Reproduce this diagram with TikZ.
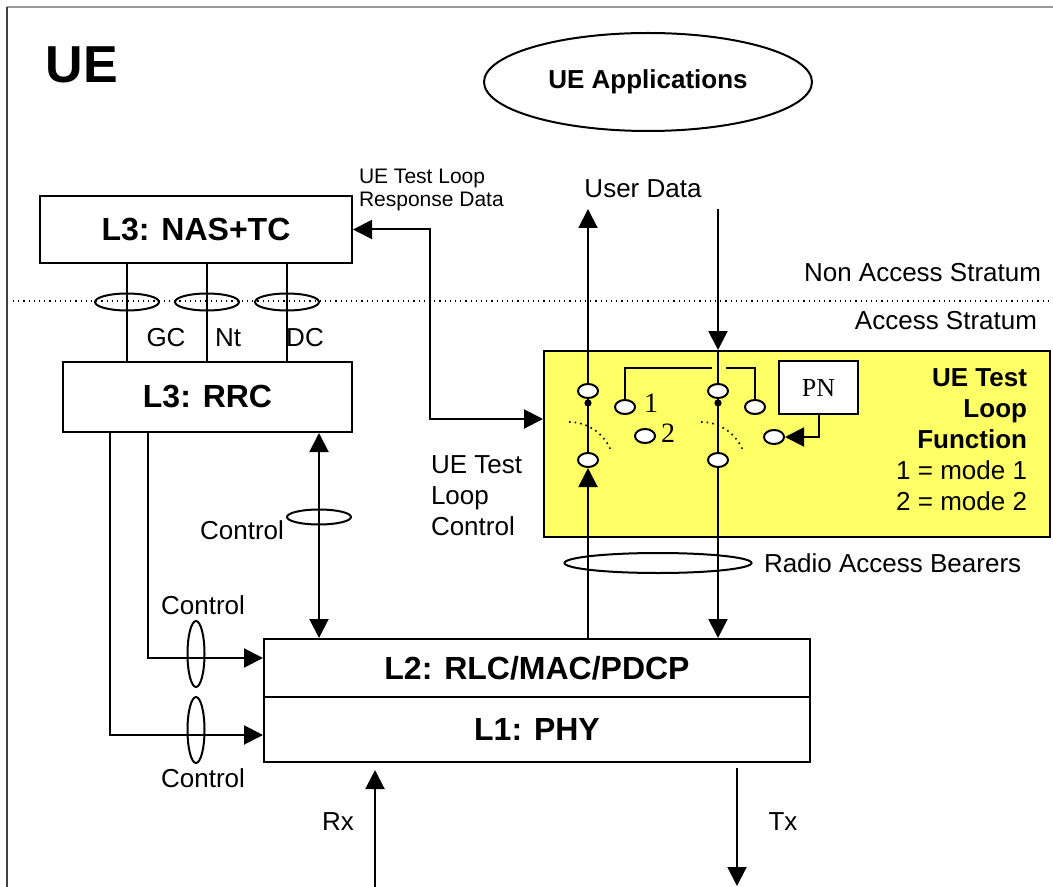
\documentclass[tikz,border=0pt]{standalone}
\usepackage{fontspec}
\setmainfont{Liberation Sans}
\newfontfamily\timesfont{Liberation Serif}
\usetikzlibrary{arrows.meta}
\usetikzlibrary{shapes.geometric}
\usetikzlibrary{positioning}
\definecolor{loopyellow}{RGB}{255,255,102}

\begin{document}
\begin{tikzpicture}
		[x=0.5pt,y=-0.5pt,line width=1pt,>={Triangle[length=9.5pt,width=9.5pt]},
		every node/.style={inner sep=0pt,font=\fontsize{13}{15.5}\selectfont},
		layer/.style={draw,fill=white,font=\fontsize{16}{19}\selectfont\bfseries},
		ring/.style={draw,ellipse},
		contact/.style={draw,ellipse,fill=white,minimum width=10pt,minimum height=7pt},
		pivot/.style={circle,fill,minimum size=3.6pt}]
		\useasboundingbox (0,0) rectangle (1053,887);
		\draw[black!40] (7,7) -- (1053,7);
		\draw[black!75] (7,7) -- (7,887);
		
		% titles
		\node (ue) at (82,65) {\fontsize{26}{30}\selectfont\bfseries UE};
		\node[ring,minimum width=164pt,minimum height=49pt,font=\fontsize{13}{15.5}\selectfont\bfseries] (apps) at (648,82) {UE Applications};
		
		% layers
		\node[layer,minimum width=156pt,minimum height=33.5pt] (nas) at (196,229.5) {L3: NAS+TC};
		\node[layer,minimum width=144.5pt,minimum height=35pt] (rrc) at (207.5,397) {L3: RRC};
		\node[layer,minimum width=273pt,minimum height=29pt] (l2) at (537,668) {L2: RLC/MAC/PDCP};
		\node[layer,minimum width=273pt,minimum height=32.5pt] (l1) at (537,729.5) {L1: PHY};
		
		% stratum border
		\draw[dotted,line width=0.6pt] (13,301) -- (1053,301);
		\node[anchor=east] (nastr) at (1042,273) {Non Access Stratum};
		\node[anchor=east] (astr) at (1038,321) {Access Stratum};
		
		% NAS - RRC bearers
		\foreach \name/\x in {gc/127,nt/207,dc/287}
		\node[ring,minimum width=32pt,minimum height=8.5pt] (\name) at (\x,302) {};
		\foreach \name in {gc,nt,dc}
		\draw (\name |- nas.south) -- (\name |- rrc.north);
		\node (gclab) at (166,338) {GC};
		\node (ntlab) at (228,338) {Nt};
		\node (dclab) at (305,338) {DC};
		
		% test loop function
		\node[draw,fill=loopyellow,minimum width=253pt,minimum height=93pt] (tlf) at (797,444) {};
		\node[anchor=east,align=right] (tlftext) at (1028,440)
		{\textbf{UE Test}\\\textbf{Loop}\\\textbf{Function}\\1 = mode 1\\2 = mode 2};
		\node[draw,fill=white,minimum width=39.5pt,minimum height=26.5pt,font=\timesfont\fontsize{13}{15.5}\selectfont] (pn) at (818.5,387.5) {PN};
		
		\node[contact] (ls1) at (588,391) {};
		\node[contact] (ls2) at (588,460) {};
		\node[contact] (lm1) at (625,407) {};
		\node[contact] (lm2) at (645,436) {};
		\node[contact] (rs1) at (718,391) {};
		\node[contact] (rs2) at (718,460) {};
		\node[contact] (rm1) at (755,407) {};
		\node[contact] (rpn) at (774,437) {};
		\node[pivot] (lpiv) at (588,403) {};
		\node[pivot] (rpiv) at (718,403) {};
		\node[anchor=west,font=\timesfont\fontsize{14}{16}\selectfont] (one) at (643,403) {1};
		\node[anchor=west,font=\timesfont\fontsize{14}{16}\selectfont] (two) at (660,433) {2};
		
		\draw (ls1) -- (ls2);
		\draw (rs1) -- (rs2);
		\draw[dotted,line width=0.8pt] (569,422) arc[start angle=-90,end angle=-20,radius=45];
		\draw[dotted,line width=0.8pt] (701,422) arc[start angle=-90,end angle=-20,radius=45];
		\coordinate (wire) at (0,368);
		\draw (lm1) |- ([xshift=-3pt]rs1 |- wire);
		\draw ([xshift=4pt]rs1 |- wire) -| (rm1);
		\draw[->] (pn) |- (rpn);
		
		% user data
		\coordinate (uptop) at (588,209);
		\coordinate (dntop) at (718,209);
		\node (udata) at (643,189) {User Data};
		\draw[->] (ls1) -- (uptop);
		\draw[->] (dntop) -- (dntop |- tlf.north);
		\draw (dntop |- tlf.north) -- (rs1);
		\draw[->] (ls2 |- l2.north) -- (ls2);
		\draw[->] (rs2) -- (rs2 |- l2.north);
		\node[ring,minimum width=93.5pt,minimum height=10pt] (rab) at (658,563) {};
		\node[anchor=west] (rablab) at (763,563) {Radio Access Bearers};
		
		% test loop control and response
		\coordinate (tlin) at ([yshift=12.5pt]tlf.west);
		\draw[<->] (nas.east) -| ([xshift=38.5pt]nas.east |- tlin) -- (tlin);
		\node[anchor=west,align=left,font=\fontsize{10.5}{11.5}\selectfont] (resp) at (358,190) {UE Test Loop\\Response Data};
		\node[anchor=west,align=left] (tlc) at (430,496) {UE Test\\Loop\\Control};
		
		% control
		\node[ring,minimum width=32pt,minimum height=7.5pt] (rctl) at (319,517) {};
		\node[ring,minimum width=8.5pt,minimum height=33pt] (uctl) at (196,654) {};
		\node[ring,minimum width=8.5pt,minimum height=33pt] (lctl) at (196,730) {};
		\draw[<->] (rctl |- rrc.south) -- (rctl |- l2.north);
		\draw[->] ([xshift=43pt]rrc.south west) |- ([yshift=5pt]l2.west);
		\draw[->] ([xshift=24pt]rrc.south west) |- ([yshift=-2.75pt]l1.west);
		\node (rctllab) at (242,530) {Control};
		\node (uctllab) at (203,605) {Control};
		\node (lctllab) at (203,778) {Control};
		
		% radio
		\coordinate (rxin) at (375,887);
		\coordinate (txout) at (737,886);
		\draw[->,shorten >=3.5pt] (rxin) -- (rxin |- l1.south);
		\draw[->,shorten <=2.5pt] (txout |- l1.south) -- (txout);
		\node (rx) at (338,822) {Rx};
		\node (tx) at (783,822) {Tx};
\end{tikzpicture}
\end{document}
